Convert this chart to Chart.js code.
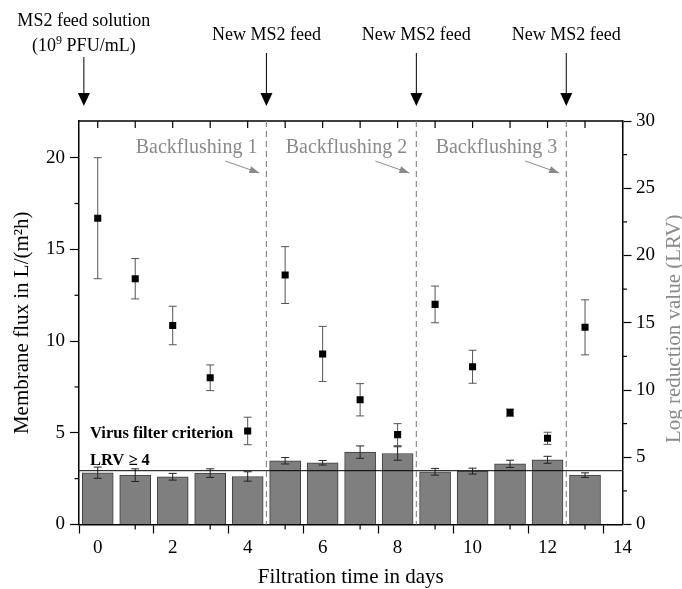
<!DOCTYPE html>
<html>
<head>
<meta charset="utf-8">
<script src="https://cdn.jsdelivr.net/npm/chart.js@4"></script>
<style>
  html, body { margin: 0; padding: 0; background: #fff; }
  #wrap { width: 682px; height: 589px; }
</style>
</head>
<body>
<div id="wrap"><canvas id="chart" width="682" height="589"></canvas></div>
<script>
// Membrane flux (left axis) and LRV bars (right axis) over 14 filtration days
const days = [0, 1, 2, 3, 4, 5, 6, 7, 8, 9, 10, 11, 12, 13];
const fluxMean = [16.7, 13.4, 10.85, 8.0, 5.1, 13.6, 9.3, 6.8, 4.9, 12.0, 8.6, 6.1, 4.7, 10.75];
const fluxErr = [3.3, 1.1, 1.05, 0.7, 0.75, 1.55, 1.5, 0.88, 0.6, 1.0, 0.9, 0.2, 0.33, 1.5];
const lrvMean = [3.85, 3.67, 3.55, 3.82, 3.57, 4.74, 4.59, 5.38, 5.28, 3.92, 3.97, 4.51, 4.81, 3.67];
const lrvErr = [0.42, 0.47, 0.25, 0.32, 0.35, 0.24, 0.17, 0.46, 0.5, 0.25, 0.22, 0.27, 0.26, 0.17];
const lrvCriterion = 4;
const backflushDays = [4.5, 8.5, 12.5];
const backflushLabels = ['Backflushing 1', 'Backflushing 2', 'Backflushing 3'];
const feedDays = [-0.37, 4.5, 8.5, 12.5];
const feedLabels = [['MS2 feed solution', '(10^9 PFU/mL)'], ['New MS2 feed'], ['New MS2 feed'], ['New MS2 feed']];

const FONT = 'Liberation Serif';
const GREY = '#8a8a8a';

function errorBars(ctx, xs, ys, errs, xScale, yScale, color) {
  ctx.save();
  ctx.strokeStyle = color;
  ctx.lineWidth = 1;
  for (let i = 0; i < xs.length; i++) {
    const x = xScale.getPixelForValue(xs[i]);
    const y1 = yScale.getPixelForValue(ys[i] + errs[i]);
    const y2 = yScale.getPixelForValue(ys[i] - errs[i]);
    ctx.beginPath();
    ctx.moveTo(x, y1); ctx.lineTo(x, y2);
    ctx.moveTo(x - 4, y1); ctx.lineTo(x + 4, y1);
    ctx.moveTo(x - 4, y2); ctx.lineTo(x + 4, y2);
    ctx.stroke();
  }
  ctx.restore();
}

function arrowHead(ctx, x1, y1, x2, y2, len, half) {
  const a = Math.atan2(y2 - y1, x2 - x1);
  ctx.beginPath();
  ctx.moveTo(x2, y2);
  ctx.lineTo(x2 - len * Math.cos(a) + half * Math.sin(a), y2 - len * Math.sin(a) - half * Math.cos(a));
  ctx.lineTo(x2 - len * Math.cos(a) - half * Math.sin(a), y2 - len * Math.sin(a) + half * Math.cos(a));
  ctx.closePath();
  ctx.fill();
}

const extras = {
  id: 'extras',
  afterDatasetDraw(chart, args) {
    if (args.index === 0) {
      errorBars(chart.ctx, days, lrvMean, lrvErr, chart.scales.x, chart.scales.y1, '#222');
    }
  },
  beforeDatasetDraw(chart, args) {
    if (args.index === 1) {
      errorBars(chart.ctx, days, fluxMean, fluxErr, chart.scales.x, chart.scales.y, '#555');
    }
  },
  afterDraw(chart) {
    const ctx = chart.ctx;
    const area = chart.chartArea;
    const xs = chart.scales.x, ys = chart.scales.y, yr = chart.scales.y1;
    ctx.save();

    // frame top + inward top ticks
    ctx.strokeStyle = '#000';
    ctx.lineWidth = 1.5;
    ctx.beginPath();
    ctx.moveTo(area.left, area.top); ctx.lineTo(area.right, area.top);
    ctx.stroke();
    ctx.lineWidth = 1.2;
    xs.ticks.forEach(t => {
      const px = xs.getPixelForValue(t.value);
      ctx.beginPath();
      ctx.moveTo(px, area.top); ctx.lineTo(px, area.top + 7);
      if (t.value % 2 !== 0) { ctx.moveTo(px, area.bottom); ctx.lineTo(px, area.bottom + 5); }
      ctx.stroke();
    });
    // minor ticks on y axes
    ys.ticks.forEach(t => {
      if (t.value % 5 === 0) return;
      const py = ys.getPixelForValue(t.value);
      ctx.beginPath(); ctx.moveTo(area.left, py); ctx.lineTo(area.left - 4.5, py); ctx.stroke();
    });
    yr.ticks.forEach(t => {
      if (t.value % 5 === 0) return;
      const py = yr.getPixelForValue(t.value);
      ctx.beginPath(); ctx.moveTo(area.right, py); ctx.lineTo(area.right + 4.5, py); ctx.stroke();
    });

    // LRV criterion line
    const cy = yr.getPixelForValue(lrvCriterion);
    ctx.lineWidth = 1;
    ctx.beginPath(); ctx.moveTo(area.left, cy); ctx.lineTo(area.right, cy); ctx.stroke();
    ctx.fillStyle = '#000';
    ctx.font = 'bold 16.5px "' + FONT + '"';
    ctx.textAlign = 'left';
    ctx.textBaseline = 'alphabetic';
    ctx.fillText('Virus filter criterion', area.left + 11, cy - 33);
    ctx.fillText('LRV \u2265 ' + lrvCriterion, area.left + 11, cy - 6);

    // backflushing dashed lines, labels and arrows
    ctx.strokeStyle = GREY;
    ctx.fillStyle = GREY;
    ctx.font = '20px "' + FONT + '"';
    ctx.textAlign = 'right';
    backflushDays.forEach((d, i) => {
      const px = xs.getPixelForValue(d);
      ctx.setLineDash([6, 4]);
      ctx.lineWidth = 1.2;
      ctx.beginPath(); ctx.moveTo(px, area.top); ctx.lineTo(px, area.bottom); ctx.stroke();
      ctx.setLineDash([]);
      ctx.fillText(backflushLabels[i], px - 9, area.top + 32);
      const x1 = px - 41, y1 = area.top + 40, x2 = px - 7, y2 = area.top + 52;
      ctx.lineWidth = 1;
      ctx.beginPath(); ctx.moveTo(x1, y1); ctx.lineTo(x2, y2); ctx.stroke();
      arrowHead(ctx, x1, y1, x2, y2, 10, 3.5);
    });

    // feed annotations above the plot
    ctx.fillStyle = '#000';
    ctx.strokeStyle = '#000';
    ctx.textAlign = 'center';
    ctx.font = '18px "' + FONT + '"';
    feedDays.forEach((d, i) => {
      const px = xs.getPixelForValue(d);
      const lines = feedLabels[i];
      let lineTop;
      if (lines.length === 2) {
        ctx.fillText(lines[0], px, 26);
        // second line with superscript exponent
        const parts = lines[1].split('^');
        const exp = parts[1].charAt(0);
        const rest = parts[1].slice(1);
        ctx.font = '18px "' + FONT + '"';
        const w1 = ctx.measureText(parts[0]).width;
        const w3 = ctx.measureText(rest).width;
        ctx.font = '12px "' + FONT + '"';
        const w2 = ctx.measureText(exp).width;
        let x = px - (w1 + w2 + w3) / 2;
        ctx.textAlign = 'left';
        ctx.font = '18px "' + FONT + '"';
        ctx.fillText(parts[0], x, 51);
        ctx.font = '12px "' + FONT + '"';
        ctx.fillText(exp, x + w1, 44);
        ctx.font = '18px "' + FONT + '"';
        ctx.fillText(rest, x + w1 + w2, 51);
        ctx.textAlign = 'center';
        lineTop = 57;
      } else {
        ctx.fillText(lines[0], px, 40);
        lineTop = 53;
      }
      ctx.lineWidth = 1;
      ctx.beginPath(); ctx.moveTo(px, lineTop); ctx.lineTo(px, 95); ctx.stroke();
      ctx.beginPath();
      ctx.moveTo(px - 6, 93); ctx.lineTo(px + 6, 93); ctx.lineTo(px, 106); ctx.closePath();
      ctx.fill();
    });

    // right axis title
    ctx.save();
    ctx.translate(674, (area.top + area.bottom) / 2 + 6);
    ctx.rotate(-Math.PI / 2);
    ctx.fillStyle = GREY;
    ctx.font = '21px "' + FONT + '"';
    ctx.textAlign = 'center';
    ctx.textBaseline = 'middle';
    ctx.fillText('Log reduction value (LRV)', 0, 0);
    ctx.restore();

    ctx.restore();
  }
};

const tickFont = { family: FONT, size: 19 };

new Chart(document.getElementById('chart'), {
  type: 'bar',
  data: {
    datasets: [
      {
        type: 'bar',
        label: 'LRV',
        data: days.map((d, i) => ({ x: d, y: lrvMean[i] })),
        yAxisID: 'y1',
        backgroundColor: '#7f7f7f',
        borderColor: '#3c3c3c',
        borderWidth: 1,
        barThickness: 31,
        order: 1
      },
      {
        type: 'scatter',
        label: 'Membrane flux',
        data: days.map((d, i) => ({ x: d, y: fluxMean[i] })),
        yAxisID: 'y',
        showLine: false,
        pointStyle: 'rect',
        pointRadius: 5,
        backgroundColor: '#000',
        borderColor: '#000',
        borderWidth: 0,
        order: 0
      }
    ]
  },
  options: {
    responsive: false,
    animation: false,
    devicePixelRatio: 1,
    layout: { padding: { top: 121, left: 0, right: 0, bottom: 0 } },
    plugins: { legend: { display: false }, tooltip: { enabled: false } },
    scales: {
      x: {
        type: 'linear',
        min: -0.5,
        max: 14,
        offset: false,
        ticks: {
          stepSize: 1,
          includeBounds: false,
          autoSkip: false,
          maxRotation: 0,
          padding: 3,
          color: '#000',
          font: tickFont,
          callback: v => (v % 2 === 0 ? String(v) : '')
        },
        grid: {
          drawOnChartArea: false,
          tickLength: 9,
          tickWidth: 1.2,
          tickColor: c => (c.tick && c.tick.value % 2 === 0 ? '#000' : 'rgba(0,0,0,0)')
        },
        border: { display: true, color: '#000', width: 1.5 },
        title: {
          display: true,
          text: 'Filtration time in days',
          color: '#000',
          font: { family: FONT, size: 21, lineHeight: 1.0 },
          padding: { top: 0, bottom: 1 }
        },
        afterFit: s => { s.height = 64.5; }
      },
      y: {
        position: 'left',
        min: 0,
        max: 22,
        ticks: {
          stepSize: 2.5,
          includeBounds: false,
          padding: 5,
          color: '#000',
          font: tickFont,
          callback: v => (v % 5 === 0 ? String(v) : '')
        },
        grid: {
          drawOnChartArea: false,
          tickLength: 9,
          tickWidth: 1.2,
          tickColor: c => (c.tick && c.tick.value % 5 === 0 ? '#000' : 'rgba(0,0,0,0)')
        },
        border: { display: true, color: '#000', width: 1.5 },
        title: {
          display: true,
          text: 'Membrane flux in L/(m\u00b2h)',
          color: '#000',
          font: { family: FONT, size: 21 },
          padding: { top: 10, bottom: 0 }
        },
        afterFit: s => { s.width = 79; }
      },
      y1: {
        position: 'right',
        min: 0,
        max: 30,
        ticks: {
          stepSize: 2.5,
          includeBounds: false,
          padding: 4.5,
          color: '#000',
          font: tickFont,
          callback: v => (v % 5 === 0 ? String(v) : '')
        },
        grid: {
          drawOnChartArea: false,
          tickLength: 9,
          tickWidth: 1.2,
          tickColor: c => (c.tick && c.tick.value % 5 === 0 ? '#000' : 'rgba(0,0,0,0)')
        },
        border: { display: true, color: '#000', width: 1.5 },
        afterFit: s => { s.width = 59.5; }
      }
    }
  },
  plugins: [extras]
});
</script>
</body>
</html>
